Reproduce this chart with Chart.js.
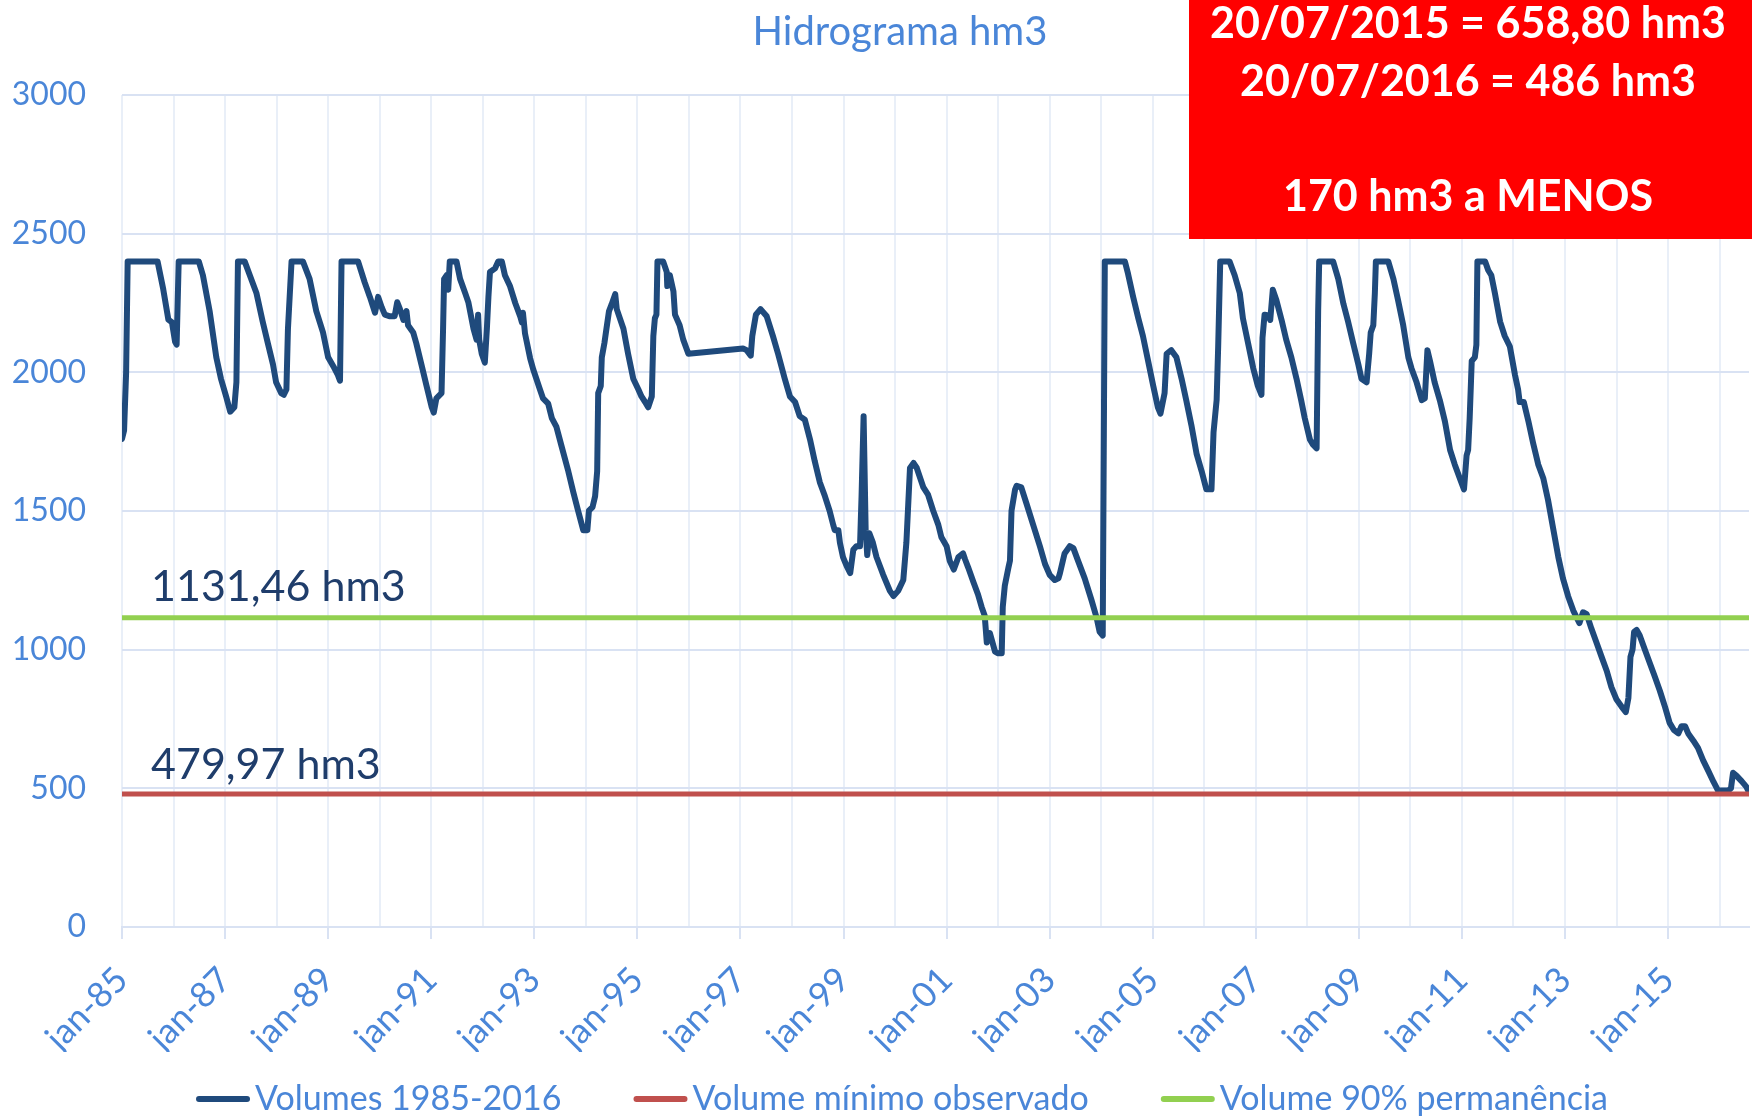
<!DOCTYPE html>
<html>
<head>
<meta charset="utf-8">
<script src="https://cdn.jsdelivr.net/npm/chart.js@4.4.1/dist/chart.umd.min.js"></script>
<style>
  html, body { margin: 0; padding: 0; background: #fff; }
</style>
</head>
<body>
<canvas id="hidrograma" width="1752" height="1119"></canvas>
<script>
const anos = [
  1985.00, 1985.04, 1985.08, 1985.11, 1985.69, 1985.80, 1985.90, 1985.97, 1986.03, 1986.06, 1986.10, 1986.49, 1986.57, 1986.70, 1986.83, 1986.92,
  1987.02, 1987.10, 1987.18, 1987.22, 1987.25, 1987.38, 1987.48, 1987.61, 1987.73, 1987.83, 1987.93, 1987.99,
  1988.09, 1988.14, 1988.19, 1988.22, 1988.29, 1988.51, 1988.64, 1988.77, 1988.90,
  1989.00, 1989.10, 1989.19, 1989.23, 1989.26, 1989.58, 1989.71, 1989.81, 1989.91, 1989.97,
  1990.04, 1990.10, 1990.20, 1990.29, 1990.34, 1990.39, 1990.46, 1990.52, 1990.55, 1990.65, 1990.71, 1990.81, 1990.91,
  1991.01, 1991.05, 1991.10, 1991.20, 1991.23, 1991.25, 1991.30, 1991.33, 1991.36, 1991.49, 1991.56, 1991.66, 1991.72, 1991.82, 1991.88, 1991.91, 1991.93, 1991.98,
  1992.04, 1992.08, 1992.11, 1992.14, 1992.24, 1992.30, 1992.37, 1992.43, 1992.53, 1992.63, 1992.73, 1992.76, 1992.78, 1992.82, 1992.92, 1992.98,
  1993.11, 1993.17, 1993.27, 1993.34, 1993.43, 1993.53, 1993.66, 1993.76, 1993.85, 1993.95,
  1994.03, 1994.06, 1994.13, 1994.18, 1994.22, 1994.24, 1994.29, 1994.31, 1994.36, 1994.40, 1994.45, 1994.50, 1994.57, 1994.60, 1994.73, 1994.82, 1994.92,
  1995.02, 1995.08, 1995.15, 1995.21, 1995.28, 1995.31, 1995.34, 1995.37, 1995.39, 1995.50, 1995.57, 1995.58, 1995.63, 1995.70, 1995.73, 1995.82, 1995.89, 1995.99,
  1997.05, 1997.12, 1997.20, 1997.23, 1997.30, 1997.39, 1997.51, 1997.63, 1997.73, 1997.86, 1997.96,
  1998.06, 1998.15, 1998.25, 1998.35, 1998.44, 1998.54, 1998.64, 1998.73, 1998.80, 1998.83, 1998.90, 1998.93, 1998.99,
  1999.06, 1999.13, 1999.19, 1999.25, 1999.32, 1999.35, 1999.39, 1999.43, 1999.46, 1999.50, 1999.57, 1999.64, 1999.77, 1999.90, 1999.97,
  2000.06, 2000.16, 2000.22, 2000.29, 2000.36, 2000.42, 2000.55, 2000.64, 2000.74, 2000.84, 2000.90,
  2001.00, 2001.06, 2001.14, 2001.23, 2001.32, 2001.36, 2001.42, 2001.52, 2001.61, 2001.68, 2001.74, 2001.78, 2001.84, 2001.94,
  2002.00, 2002.07, 2002.09, 2002.13, 2002.20, 2002.23, 2002.26, 2002.33, 2002.36, 2002.45, 2002.55, 2002.68, 2002.81, 2002.91,
  2003.00, 2003.10, 2003.17, 2003.20, 2003.29, 2003.39, 2003.46, 2003.55, 2003.68, 2003.81, 2003.91, 2003.97,
  2004.03, 2004.07, 2004.46, 2004.52, 2004.62, 2004.72, 2004.81, 2004.91,
  2005.01, 2005.10, 2005.15, 2005.23, 2005.27, 2005.36, 2005.46, 2005.56, 2005.65, 2005.75, 2005.85, 2005.95,
  2006.04, 2006.14, 2006.18, 2006.24, 2006.27, 2006.31, 2006.49, 2006.59, 2006.69, 2006.75, 2006.85, 2006.95,
  2007.04, 2007.11, 2007.13, 2007.17, 2007.24, 2007.28, 2007.33, 2007.40, 2007.50, 2007.59, 2007.69, 2007.79, 2007.88, 2007.95,
  2008.05, 2008.11, 2008.18, 2008.21, 2008.23, 2008.50, 2008.60, 2008.70, 2008.79, 2008.89, 2008.99,
  2009.05, 2009.15, 2009.20, 2009.23, 2009.28, 2009.31, 2009.33, 2009.57, 2009.67, 2009.76, 2009.86, 2009.96,
  2010.02, 2010.12, 2010.22, 2010.28, 2010.33, 2010.38, 2010.47, 2010.57, 2010.67, 2010.77, 2010.86, 2010.96,
  2011.04, 2011.09, 2011.12, 2011.15, 2011.19, 2011.25, 2011.28, 2011.30, 2011.45, 2011.51, 2011.57, 2011.64, 2011.74, 2011.83, 2011.93,
  2012.03, 2012.09, 2012.12, 2012.20, 2012.29, 2012.38, 2012.48, 2012.58, 2012.67, 2012.77, 2012.87, 2012.96,
  2013.06, 2013.16, 2013.21, 2013.28, 2013.35, 2013.42, 2013.51, 2013.61, 2013.71, 2013.81, 2013.90,
  2014.00, 2014.10, 2014.18, 2014.23, 2014.27, 2014.31, 2014.34, 2014.39, 2014.45, 2014.55, 2014.65, 2014.74, 2014.84, 2014.94,
  2015.03, 2015.11, 2015.20, 2015.26, 2015.33, 2015.39, 2015.49, 2015.58, 2015.68, 2015.78, 2015.88, 2015.97,
  2016.07, 2016.17, 2016.22, 2016.26, 2016.33, 2016.43, 2016.52, 2016.56
];
const volumes = [
  1760, 1790, 2000, 2400, 2400, 2300, 2190, 2180, 2110, 2100, 2400, 2400, 2350, 2221, 2054, 1977,
  1913, 1858, 1874, 1964, 2400, 2400, 2350, 2285, 2183, 2105, 2028, 1964,
  1925, 1919, 1938, 2157, 2400, 2400, 2337, 2221, 2144,
  2054, 2022, 1990, 1970, 2400, 2400, 2324, 2272, 2215, 2272,
  2234, 2208, 2202, 2202, 2253, 2230, 2189, 2221, 2170, 2144, 2105, 2028, 1951,
  1874, 1855, 1906, 1925, 2157, 2337, 2350, 2298, 2400, 2400, 2337, 2285, 2253, 2157, 2118, 2208, 2118, 2067,
  2035, 2157, 2272, 2362, 2375, 2400, 2400, 2350, 2310, 2250, 2200, 2180, 2215, 2140, 2050, 2010,
  1938, 1906, 1887, 1835, 1803, 1733, 1643, 1566, 1501, 1431,
  1431, 1501, 1514, 1553, 1643, 1925, 1951, 2054, 2105, 2157, 2221, 2245, 2282, 2228, 2157, 2067, 1977,
  1938, 1913, 1893, 1874, 1913, 2131, 2195, 2208, 2400, 2400, 2362, 2311, 2350, 2292, 2208, 2170, 2118, 2067,
  2086, 2080, 2060, 2131, 2208, 2228, 2202, 2131, 2067, 1977, 1913,
  1893, 1842, 1829, 1758, 1681, 1604, 1553, 1501, 1450, 1431, 1431, 1386, 1334,
  1302, 1276, 1360, 1373, 1373, 1553, 1842, 1430, 1341, 1420, 1386, 1334, 1270, 1212, 1193,
  1212, 1251, 1386, 1655, 1673, 1656, 1585, 1559, 1501, 1450, 1405,
  1373, 1321, 1289, 1334, 1347, 1325, 1296, 1244, 1199, 1154, 1122, 1026, 1060, 993,
  987, 987, 1154, 1231, 1296, 1321, 1501, 1578, 1591, 1585, 1527, 1450, 1373, 1309,
  1270, 1251, 1257, 1276, 1347, 1373, 1366, 1321, 1257, 1180, 1116, 1064,
  1051, 2400, 2400, 2356, 2272, 2195, 2131, 2041,
  1951, 1874, 1851, 1925, 2067, 2080, 2054, 1977, 1900, 1810, 1707, 1643,
  1578, 1578, 1784, 1900, 2093, 2400, 2400, 2350, 2285, 2195, 2105, 2015,
  1951, 1919, 2125, 2208, 2205, 2189, 2298, 2260, 2189, 2118, 2054, 1977, 1900, 1835,
  1758, 1739, 1726, 2221, 2400, 2400, 2337, 2247, 2183, 2105, 2028,
  1977, 1964, 2067, 2144, 2170, 2285, 2400, 2400, 2337, 2260, 2170, 2054,
  2015, 1964, 1900, 1906, 2080, 2041, 1964, 1900, 1823, 1720, 1668, 1617,
  1578, 1700, 1720, 1835, 2041, 2054, 2099, 2400, 2400, 2368, 2350, 2285, 2183, 2131, 2093,
  1990, 1938, 1893, 1893, 1823, 1746, 1668, 1617, 1540, 1437, 1334, 1257,
  1193, 1141, 1122, 1096, 1135, 1128, 1077, 1026, 974, 923, 865,
  820, 794, 775, 826, 974, 1000, 1064, 1071, 1051, 1000, 949, 904, 852, 794,
  736, 711, 698, 724, 724, 698, 672, 646, 601, 563, 524, 492,
  492, 492, 500, 556, 545, 525, 505, 490
];

// grade vertical: uma linha por ano, rotulo a cada dois anos
const anosGrade = [1985, 1986, 1987, 1988, 1989, 1990, 1991, 1992, 1993, 1994, 1995, 1996, 1997, 1998, 1999, 2000,
  2001, 2002, 2003, 2004, 2005, 2006, 2007, 2008, 2009, 2010, 2011, 2012, 2013, 2014, 2015, 2016];
const rotulosAnos = ['jan-85', '', 'jan-87', '', 'jan-89', '', 'jan-91', '', 'jan-93', '', 'jan-95', '', 'jan-97', '', 'jan-99', '',
  'jan-01', '', 'jan-03', '', 'jan-05', '', 'jan-07', '', 'jan-09', '', 'jan-11', '', 'jan-13', '', 'jan-15', ''];
const fimSerie = 2016.57;

// linhas de referencia
const volumeMinimo = 479.97;
const volume90 = 1115;
const rotuloMinimo = '479,97 hm3';
const rotulo90 = '1131,46 hm3';

const linhasCaixa = ['20/07/2015 = 658,80 hm3', '20/07/2016 = 486 hm3', '', '170 hm3 a MENOS'];

const azulTexto = '#4a86d8';
const azulSerie = '#1f4a7c';
const fonte = 'Lato';

const serie = anos.map((a, i) => ({ x: a, y: volumes[i] }));

// textos sobre o grafico: rotulos das linhas, titulo, legenda e a caixa vermelha
const textosExtras = {
  id: 'textosExtras',
  afterDatasetsDraw(chart) {
    const { ctx, chartArea, scales } = chart;
    ctx.save();
    ctx.font = '43px ' + fonte;
    ctx.fillStyle = '#1f3d6b';
    ctx.textBaseline = 'middle';
    ctx.fillText(rotulo90, chartArea.left + 29, scales.y.getPixelForValue(volume90) - 31);
    ctx.fillText(rotuloMinimo, chartArea.left + 29, scales.y.getPixelForValue(volumeMinimo) - 29);
    ctx.restore();
  },
  afterDraw(chart) {
    const { ctx } = chart;
    ctx.save();
    ctx.textAlign = 'center';
    ctx.textBaseline = 'middle';
    ctx.font = '40px ' + fonte;
    ctx.fillStyle = azulTexto;
    ctx.fillText('Hidrograma hm3', 900, 32);

    // legenda
    ctx.font = '34px ' + fonte;
    ctx.textAlign = 'left';
    const itens = chart.data.datasets;
    const larg = itens.map(d => 52 + 7 + ctx.measureText(d.label).width);
    const total = larg.reduce((s, w) => s + w, 0) + 72 * (itens.length - 1);
    let x = 902 - total / 2;
    const yLeg = 1099;
    itens.forEach((d, i) => {
      ctx.strokeStyle = d.borderColor;
      ctx.lineWidth = 6;
      ctx.lineCap = 'round';
      ctx.beginPath();
      ctx.moveTo(x + 3, yLeg);
      ctx.lineTo(x + 51, yLeg);
      ctx.stroke();
      ctx.fillStyle = azulTexto;
      ctx.fillText(d.label, x + 59, yLeg);
      x += larg[i] + 72;
    });

    ctx.textAlign = 'center';
    ctx.fillStyle = '#ff0000';
    ctx.fillRect(1189, 0, 563, 239);
    ctx.fillStyle = '#ffffff';
    ctx.font = 'bold 43px ' + fonte;
    const ys = [24, 82, 140, 197];
    linhasCaixa.forEach((t, i) => ctx.fillText(t, 1468, ys[i]));
    ctx.restore();
  }
};

const grafico = new Chart(document.getElementById('hidrograma').getContext('2d'), {
  type: 'line',
  data: {
    datasets: [
      {
        label: 'Volumes 1985-2016',
        data: serie,
        borderColor: azulSerie,
        backgroundColor: azulSerie,
        borderWidth: 6,
        borderJoinStyle: 'round',
        borderCapStyle: 'round',
        pointRadius: 0,
        tension: 0,
        order: 2
      },
      {
        label: 'Volume mínimo observado',
        data: [{ x: anosGrade[0], y: volumeMinimo }, { x: fimSerie, y: volumeMinimo }],
        borderColor: '#c0504d',
        backgroundColor: '#c0504d',
        borderWidth: 5,
        borderCapStyle: 'round',
        pointRadius: 0,
        order: 1
      },
      {
        label: 'Volume 90% permanência',
        data: [{ x: anosGrade[0], y: volume90 }, { x: fimSerie, y: volume90 }],
        borderColor: '#92d050',
        backgroundColor: '#92d050',
        borderWidth: 5,
        borderCapStyle: 'round',
        pointRadius: 0,
        order: 0
      }
    ]
  },
  options: {
    responsive: false,
    animation: false,
    devicePixelRatio: 1,
    layout: { padding: { top: 95, left: 0, right: 3, bottom: 67 } },
    plugins: {
      title: { display: false },
      tooltip: { enabled: false },
      legend: { display: false }
    },
    scales: {
      x: {
        type: 'linear',
        min: anosGrade[0],
        max: fimSerie,
        afterBuildTicks: (s) => { s.ticks = anosGrade.map(v => ({ value: v })); },
        afterFit: (s) => { s.height = 125; s.paddingLeft = 0; s.paddingRight = 0; },
        grid: {
          color: '#e9eff8',
          lineWidth: 2,
          tickLength: 12,
          tickColor: (c) => (rotulosAnos[c.index] ? '#d9e2f3' : 'rgba(0,0,0,0)')
        },
        border: { color: '#d9e2f3', width: 2 },
        ticks: {
          autoSkip: false,
          minRotation: 45,
          maxRotation: 45,
          padding: 20,
          color: azulTexto,
          font: { family: fonte, size: 35 },
          callback: (v, i) => rotulosAnos[i]
        }
      },
      y: {
        min: 0,
        max: 3000,
        afterFit: (s) => { s.width = 122; },
        grid: { color: '#d9e2f3', lineWidth: 2, drawTicks: false },
        border: { display: false },
        ticks: {
          stepSize: 500,
          padding: 36,
          color: azulTexto,
          font: { family: fonte, size: 32 },
          callback: (v) => String(v)
        }
      }
    }
  },
  plugins: [textosExtras]
});
</script>
</body>
</html>
